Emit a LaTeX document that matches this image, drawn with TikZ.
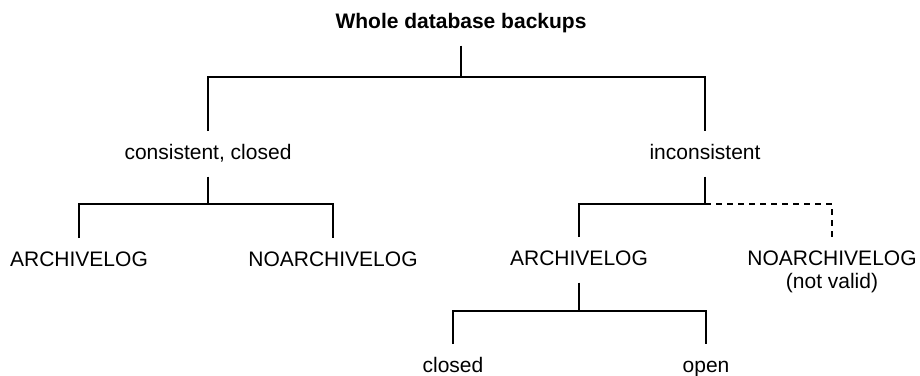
\documentclass[tikz,border=0pt]{standalone}
\usepackage{fontspec}
\setmainfont{Liberation Sans}
\begin{document}
\begin{tikzpicture}[x=1pt,y=-1pt,
  lbl/.style={inner sep=0pt, outer sep=13pt, text height=15pt, text depth=4.5pt,
              anchor=base, font=\fontsize{21}{24}\selectfont},
  branch/.style={line width=2.3pt, line join=miter},
  invalid/.style={line width=2.3pt, dash pattern=on 6pt off 5pt}]
\useasboundingbox (0,0) rectangle (920,375);

% labels
\node[lbl, font=\fontsize{21}{24}\selectfont\bfseries] (root) at (461,28) {Whole database backups};
\node[lbl] (cc)      at (208,159) {consistent, closed};
\node[lbl] (inc)     at (705,159) {inconsistent};
\node[lbl] (arch1)   at (79,266)  {ARCHIVELOG};
\node[lbl] (noarch1) at (333,266) {NOARCHIVELOG};
\node[lbl] (arch2)   at (579,265) {ARCHIVELOG};
\node[lbl] (noarch2) at (832,265) {NOARCHIVELOG};
\node[lbl] (nv)      at (832,288) {(not valid)};
\node[lbl] (closed)  at (453,372) {closed};
\node[lbl] (open)    at (706,372) {open};

% junction points of the horizontal bars
\coordinate (j0) at (461,77);
\coordinate (j1) at (208,204);
\coordinate (j2) at (705,204);
\coordinate (j3) at (579,311);

% connectors
\draw[branch] (root.south) -- (j0);
\draw[branch] (cc.north) |- (j0) -| (inc.north);
\draw[branch] (cc.south) -- (j1);
\draw[branch] (arch1.north) |- (j1) -| (noarch1.north);
\draw[branch] (inc.south) -- (j2);
\draw[branch] (arch2.north) |- (j2);
\draw[invalid] (j2) -| (noarch2.north);
\draw[branch] (arch2.south) -- (j3);
\draw[branch] (closed.north) |- (j3) -| (open.north);
\end{tikzpicture}
\end{document}
